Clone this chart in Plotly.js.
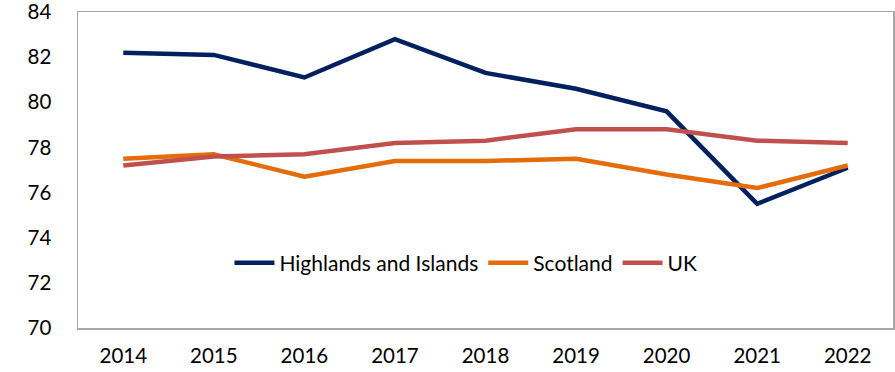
<!DOCTYPE html>
<html><head><meta charset="utf-8">
<script src="https://cdn.plot.ly/plotly-3.0.1.min.js"></script>
<style>body{margin:0;padding:0;background:#fff}#chart{width:895px;height:372px}</style>
</head><body><div id="chart"></div>
<script>
const years = ['2014','2015','2016','2017','2018','2019','2020','2021','2022'];
const highlands = [82.2, 82.1, 81.1, 82.8, 81.3, 80.6, 79.6, 75.5, 77.1];
const scotland = [77.5, 77.7, 76.7, 77.4, 77.4, 77.5, 76.8, 76.2, 77.2];
const uk = [77.2, 77.6, 77.7, 78.2, 78.3, 78.8, 78.8, 78.3, 78.2];
const yTicks = [70, 72, 74, 76, 78, 80, 82, 84];

const mk = (name, y, color) => ({
  type: 'scatter', mode: 'lines', name: name, x: years, y: y,
  line: {color: color, width: 4.5}
});
const data = [
  mk('Highlands and Islands', highlands, '#002060'),
  mk('Scotland', scotland, '#E46C0A'),
  mk('UK', uk, '#C0504D')
];
const font = {family: 'Lato, "Liberation Sans", sans-serif', size: 20.5, color: '#000'};
const layout = {
  width: 895, height: 372,
  margin: {l: 78, r: 2, t: 12, b: 44},
  paper_bgcolor: '#fff', plot_bgcolor: '#fff',
  font: font,
  showlegend: true,
  legend: {orientation: 'h', x: 0.476, y: 0.205, xanchor: 'center', yanchor: 'middle',
           font: {family: font.family, size: 21, color: '#000'}, itemwidth: 40, tracegroupgap: 0,
           bgcolor: 'rgba(0,0,0,0)'},
  xaxis: {type: 'category', range: [-0.5, 8.5], showline: true, linecolor: '#A6A6A6', linewidth: 1.5,
          mirror: true, showgrid: false, ticks: '', tickfont: font, zeroline: false, ticklabelstandoff: 9},
  yaxis: {range: [70, 84], tickvals: yTicks, showline: true, linecolor: '#A6A6A6', linewidth: 1.5,
          mirror: true, showgrid: false, ticks: '', tickfont: font, zeroline: false, ticklabelstandoff: 21,
          ticklabeloverflow: 'allow'}
};
Plotly.newPlot('chart', data, layout, {displayModeBar: false, staticPlot: true});
</script></body></html>
